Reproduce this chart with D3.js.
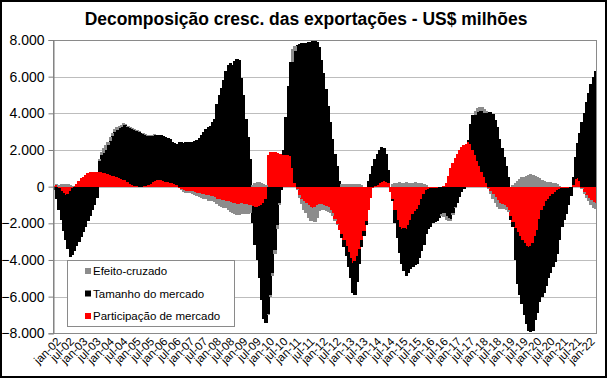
<!DOCTYPE html>
<html><head><meta charset="utf-8">
<script src="https://cdn.jsdelivr.net/npm/d3@7"></script>
<style>
body{margin:0;background:#fff;}
svg{display:block;}
text{font-family:"Liberation Sans",Arial,sans-serif;fill:#000;}
</style>
</head><body>
<svg id="chart" width="610" height="380"></svg>
<script>
// ---------- DATA ----------
const monthAbbr = ["jan","fev","mar","abr","mai","jun","jul","ago","set","out","nov","dez"];
const firstYear = 2002;
const nMonths = 244; // jan-02 .. abr-22
const categories = [];
for (let k = 0; k < nMonths; k++) {
  const yy = firstYear + Math.floor(k / 12);
  categories.push(monthAbbr[k % 12] + "-" + String(yy % 100).padStart(2, "0"));
}
const tickLabels = categories.filter((c, k) => k % 6 === 0);

const seriesNames = ["Participação de mercado", "Tamanho do mercado", "Efeito-cruzado"];

const participacao = [
  50,100,-100,-250,-350,-450,-400,-250,-100,50,
  150,300,450,550,650,720,780,810,820,800,
  800,780,750,720,680,640,600,560,520,480,
  420,380,340,250,150,80,40,20,0,0,
  10,30,80,150,250,330,350,360,340,320,
  280,230,200,180,150,80,-50,-120,-180,-220,
  -250,-230,-260,-300,-330,-360,-380,-420,-450,-480,
  -500,-520,-580,-650,-700,-730,-740,-760,-800,-850,
  -880,-900,-920,-920,-900,-930,-950,-980,-1000,-1050,
  -1100,-1100,-1050,-1000,-900,-700,1750,1900,1900,1880,
  1850,1800,1780,1750,1720,1700,1650,1000,200,-150,
  -450,-650,-800,-900,-1000,-1100,-1150,-1100,-1000,-950,
  -950,-1000,-1050,-1100,-1250,-1450,-1750,-2050,-2350,-2600,
  -2900,-3250,-3550,-3900,-4150,-4050,-3800,-3400,-2900,-2400,
  -1900,-1300,-600,-100,50,100,200,250,300,250,
  200,-300,-700,-1300,-1800,-2200,-2300,-2250,-2300,-2100,
  -1800,-1500,-1350,-1200,-1000,-700,-400,-200,-150,-100,
  -100,-80,-50,-20,0,50,200,600,1000,1300,
  1550,1800,2000,2150,2250,2350,2450,2350,2000,1700,
  1400,1100,800,500,200,-100,-250,-400,-550,-750,
  -900,-950,-1000,-1100,-1300,-1600,-1950,-2250,-2500,-2700,
  -2900,-3100,-3250,-3300,-3250,-3100,-2700,-2350,-1750,-1300,
  -1050,-800,-650,-500,-400,-300,-200,-150,-100,-100,
  -80,-50,-30,100,400,450,300,-100,-300,-450,
  -600,-750,-850,-900
];

const tamanho = [
  -200,-700,-1200,-1550,-2050,-2450,-3000,-3600,-3650,-3500,
  -3250,-3000,-2750,-2450,-2200,-1900,-1600,-1300,-1000,-600,
  600,920,1100,1280,1570,1860,2150,2440,2580,2720,
  2860,3000,3030,3030,3050,3070,3060,3010,2970,2900,
  2840,2800,2690,2600,2520,2470,2480,2440,2480,2460,
  2420,2420,2400,2270,2230,2270,2420,2420,2400,2430,
  2420,2450,2430,2480,2550,2650,2800,3000,3150,3250,
  3300,3500,3700,4500,5000,5400,5800,6300,6650,6750,
  6650,6850,6950,6900,5900,5000,3700,2700,1500,-950,
  -2100,-2900,-3950,-5200,-6300,-6750,-6950,-5900,-4700,-3450,
  -2100,-900,-200,250,2080,3800,5150,5800,7200,7750,
  7800,7850,7820,7850,7880,7900,7920,7920,7900,7600,
  6900,6200,5300,4400,3500,2600,1800,1100,300,-200,
  -400,-550,-850,-1100,-1650,-1850,-1400,-800,-400,-300,
  -200,300,700,1100,1450,1700,1800,1900,1800,1550,
  700,0,-100,-700,-1000,-1400,-1900,-2350,-2600,-2600,
  -2700,-2900,-2950,-3000,-2900,-2800,-2800,-2400,-2150,-2100,
  -1900,-1870,-1800,-1680,-1500,-1450,-1600,-1700,-1750,-1450,
  -1100,-900,-550,-300,-150,0,100,1050,1900,2200,
  2650,3000,3300,3500,3800,4050,4050,3950,3650,3250,
  2600,2100,1600,1100,500,-200,-250,-1750,-2800,-3200,
  -3500,-3900,-4250,-4600,-4700,-4800,-4600,-4550,-4550,-4700,
  -4750,-4600,-4350,-4200,-4000,-3800,-3500,-2750,-2100,-1700,
  -1420,-950,-470,400,1200,1950,2600,3500,4000,4600,
  5100,5600,6000,6300
];

const efeitoCruzado = [
  0,50,100,150,150,150,150,100,50,0,
  0,0,0,0,0,0,0,0,0,0,
  100,200,250,250,200,200,200,150,150,100,
  100,100,50,50,50,50,50,50,50,50,
  50,50,50,50,50,50,0,0,0,0,
  0,0,0,0,0,0,-50,-80,-100,-100,
  -120,-100,-120,-150,-180,-200,-230,-250,-250,-280,
  -260,-250,-280,-320,-350,-380,-400,-420,-480,-520,
  -550,-580,-600,-620,-580,-550,-520,-500,-450,100,
  200,250,250,200,150,100,-50,-100,-200,-250,
  -200,-100,0,0,0,0,0,700,250,-50,
  -150,-300,-450,-550,-700,-800,-750,-850,-700,-400,
  -300,-250,-300,-300,-200,-150,-100,-50,0,150,
  150,150,150,150,150,150,150,150,100,0,
  0,0,0,0,0,0,0,0,0,0,
  0,0,150,200,200,250,200,200,250,200,
  200,200,250,200,200,200,150,100,0,0,
  0,0,0,0,-100,-200,-200,-150,-150,-100,
  -50,0,0,0,0,0,0,0,0,250,
  250,250,250,250,100,-50,-150,-250,-350,-350,
  -300,-250,-200,-150,-100,0,100,200,300,400,
  500,550,600,650,680,650,600,500,450,350,
  300,280,270,250,220,180,120,60,0,0,
  0,0,0,0,0,0,0,-50,-100,-150,
  -200,-250,-300,-300
];

const yTicks = [-8000,-6000,-4000,-2000,0,2000,4000,6000,8000];
const colors = ["#ff0000", "#000000", "#8c8c8c"];

// ---------- LAYOUT ----------
const svg = d3.select("#chart");
const W = 610, H = 380;
const plot = {left: 53.5, right: 596.5, top: 40, bottom: 333.3};

svg.append("rect").attr("x",0).attr("y",0).attr("width",W).attr("height",H).attr("fill","#fff");

const table = categories.map((c, k) => ({
  cat: c,
  [seriesNames[0]]: participacao[k],
  [seriesNames[1]]: tamanho[k],
  [seriesNames[2]]: efeitoCruzado[k]
}));

const x = d3.scaleBand().domain(categories).range([plot.left, plot.right]).padding(0);
const y = d3.scaleLinear().domain([-8000, 8000]).range([plot.bottom, plot.top]);

// gridlines
svg.append("g").selectAll("line").data(yTicks).join("line")
  .attr("x1", plot.left).attr("x2", plot.right)
  .attr("y1", d => Math.round(y(d)) + 0.5).attr("y2", d => Math.round(y(d)) + 0.5)
  .attr("stroke", "#bdbdbd").attr("stroke-width", 1);

// stacked bars (pixel-snapped so neighbouring bars leave no seams)
const stacked = d3.stack().keys(seriesNames).offset(d3.stackOffsetDiverging)(table);
const bw = x.bandwidth();
svg.append("g").attr("shape-rendering", "crispEdges").selectAll("g").data(stacked).join("g")
  .attr("fill", (d, k) => colors[k])
  .selectAll("rect").data(d => d).join("rect")
  .attr("x", d => Math.floor(x(d.data.cat)))
  .attr("width", d => Math.ceil(x(d.data.cat) + bw) - Math.floor(x(d.data.cat)))
  .attr("y", d => Math.round(y(Math.max(d[0], d[1]))))
  .attr("height", d => Math.round(y(Math.min(d[0], d[1]))) - Math.round(y(Math.max(d[0], d[1]))));

// plot border
svg.append("rect")
  .attr("x", plot.left).attr("y", Math.round(plot.top) + 0.5)
  .attr("width", plot.right - plot.left).attr("height", Math.round(plot.bottom) - Math.round(plot.top))
  .attr("fill", "none").attr("stroke", "#8a8a8a").attr("stroke-width", 1);

// y axis
const yAxis = d3.axisLeft(y).tickValues(yTicks).tickSize(5).tickPadding(4)
  .tickFormat(d => d3.format(",")(d).replace(/,/g, "."));
const gy = svg.append("g").attr("transform", `translate(${plot.left},0)`).call(yAxis);
gy.select(".domain").attr("stroke", "#7f7f7f");
gy.selectAll(".tick line").attr("stroke", "#7f7f7f");
gy.selectAll(".tick text").attr("font-size", "14px").attr("font-family", "Liberation Sans, Arial, sans-serif").attr("fill", "#000");

// x labels (rotated)
svg.append("g").selectAll("text").data(tickLabels).join("text")
  .attr("transform", d => `translate(${x(d) + bw / 2 + 4},${plot.bottom + 6}) rotate(-45)`)
  .attr("text-anchor", "end").attr("dy", "0.35em")
  .attr("font-size", "11.5px")
  .text(d => d);

// title
const title = svg.append("text")
  .attr("x", 306).attr("y", 25).attr("text-anchor", "middle")
  .attr("font-size", "17px").attr("font-weight", "bold")
  .text("Decomposição cresc. das exportações - US$ milhões");
const tl = title.node().getComputedTextLength();
title.attr("font-size", (17 * 443 / tl).toFixed(2) + "px");

// legend
const leg = svg.append("g");
leg.append("rect").attr("x", 67.5).attr("y", 260.5).attr("width", 167).attr("height", 66)
  .attr("fill", "#fff").attr("stroke", "#8a8a8a");
const legItems = [seriesNames[2], seriesNames[1], seriesNames[0]];
const legColors = [colors[2], colors[1], colors[0]];
legItems.forEach((name, k) => {
  const cy = 271 + k * 22.5;
  leg.append("rect").attr("x", 85).attr("y", cy - 3).attr("width", 6).attr("height", 6).attr("fill", legColors[k]);
  leg.append("text").attr("x", 93).attr("y", cy).attr("dy", "0.35em").attr("font-size", "11.5px").text(name);
});

// outer frame
svg.append("rect").attr("x", 1).attr("y", 1).attr("width", 605).attr("height", 376)
  .attr("fill", "none").attr("stroke", "#000").attr("stroke-width", 2);
</script>
</body></html>
